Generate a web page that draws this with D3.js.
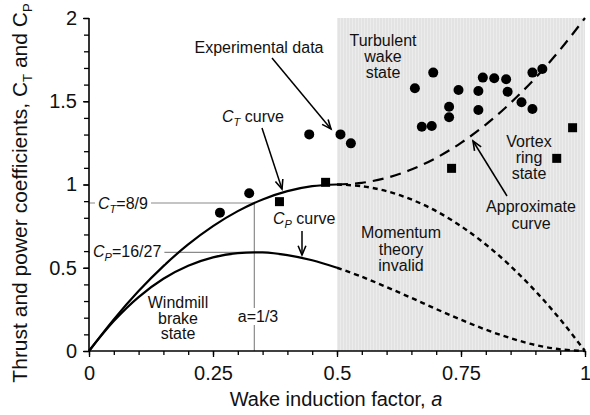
<!DOCTYPE html>
<html>
<head>
<meta charset="utf-8">
<script src="https://cdn.jsdelivr.net/npm/d3@7"></script>
<style>
  html, body { margin: 0; padding: 0; background: #fff; }
  svg { display: block; font-family: "Liberation Sans", Arial, Helvetica, sans-serif; }
</style>
</head>
<body>
<svg id="chart" width="590" height="415"></svg>
<script>
// ---------------- DATA ----------------
const aGrid = [0, 0.05, 0.1, 0.15, 0.2, 0.25, 0.3, 0.35, 0.4, 0.45, 0.5,
               0.55, 0.6, 0.65, 0.7, 0.75, 0.8, 0.85, 0.9, 0.95, 1];
const ctValues = [0, 0.19, 0.36, 0.51, 0.64, 0.75, 0.84, 0.91, 0.96, 0.99, 1.0,
                  0.99, 0.96, 0.91, 0.84, 0.75, 0.64, 0.51, 0.36, 0.19, 0];
const cpValues = [0, 0.18, 0.324, 0.434, 0.512, 0.5625, 0.588, 0.592, 0.576, 0.545, 0.5,
                  0.446, 0.384, 0.319, 0.252, 0.188, 0.128, 0.077, 0.036, 0.01, 0];
const approxA  = [0.5, 0.55, 0.6, 0.65, 0.7, 0.75, 0.8, 0.85, 0.9, 0.95, 1];
const approxCT = [1.0, 1.01, 1.04, 1.09, 1.16, 1.25, 1.36, 1.49, 1.64, 1.81, 2.0];

const circleA = [0.264, 0.323, 0.444, 0.507, 0.528, 0.657, 0.694, 0.671, 0.691, 0.726, 0.726,
                 0.745, 0.785, 0.785, 0.794, 0.817, 0.841, 0.844, 0.872, 0.894, 0.894, 0.914];
const circleC = [0.831, 0.947, 1.301, 1.301, 1.247, 1.578, 1.672, 1.347, 1.351, 1.467, 1.404,
                 1.568, 1.562, 1.447, 1.642, 1.638, 1.632, 1.557, 1.494, 1.453, 1.672, 1.694];
const squareA = [0.384, 0.477, 0.731, 0.943, 0.975];
const squareC = [0.897, 1.013, 1.097, 1.157, 1.341];

const xMajorTicks = [0, 0.25, 0.5, 0.75, 1];
const xTickLabels = ["0", "0.25", "0.5", "0.75", "1"];
const yMajorTicks = [0, 0.5, 1, 1.5, 2];
const yTickLabels = ["0", "0.5", "1", "1.5", "2"];
const xMinorTicks = d3.range(0, 21).map(i => i * 0.05);
const yMinorTicks = d3.range(0, 21).map(i => i * 0.1);

const aOptimal = 1 / 3;
const ctOptimal = 8 / 9;
const cpOptimal = 16 / 27;
const invalidStart = 0.5;

// ---------------- SETUP ----------------
const svg = d3.select("#chart");
const x = d3.scaleLinear().domain([0, 1]).range([89, 585]);
const y = d3.scaleLinear().domain([0, 2]).range([351, 18]);

// shading pattern
const defs = svg.append("defs");
const pat = defs.append("pattern").attr("id", "stripes").attr("patternUnits", "userSpaceOnUse")
  .attr("width", 3).attr("height", 10);
pat.append("rect").attr("width", 3).attr("height", 10).attr("fill", "#e3e3e3");
pat.append("rect").attr("x", 1).attr("width", 1).attr("height", 10).attr("fill", "#ececec");

svg.append("rect")
  .attr("x", x(invalidStart)).attr("y", y(2))
  .attr("width", x(1) - x(invalidStart)).attr("height", y(0) - y(2))
  .attr("fill", "url(#stripes)");

// reference lines
const refG = svg.append("g").attr("stroke", "#8a8a8a").attr("stroke-width", 1.2);
refG.append("line").attr("x1", x(aOptimal)).attr("x2", x(aOptimal)).attr("y1", y(0)).attr("y2", y(ctOptimal));
refG.append("line").attr("x1", x(0)).attr("x2", x(aOptimal)).attr("y1", y(ctOptimal)).attr("y2", y(ctOptimal));
refG.append("line").attr("x1", x(0)).attr("x2", x(aOptimal)).attr("y1", y(cpOptimal)).attr("y2", y(cpOptimal));

// ---------------- CURVES ----------------
const ctPts = aGrid.map((a, i) => [a, ctValues[i]]);
const cpPts = aGrid.map((a, i) => [a, cpValues[i]]);
const apPts = approxA.map((a, i) => [a, approxCT[i]]);
const line = d3.line().x(d => x(d[0])).y(d => y(d[1])).curve(d3.curveCatmullRom.alpha(0.5));

function drawCurve(pts, dash, width) {
  svg.append("path").datum(pts).attr("d", line)
    .attr("fill", "none").attr("stroke", "#000").attr("stroke-width", width)
    .attr("stroke-dasharray", dash);
}
drawCurve(ctPts.filter(d => d[0] <= invalidStart), null, 2.2);
drawCurve(cpPts.filter(d => d[0] <= invalidStart), null, 2.2);
drawCurve(ctPts.filter(d => d[0] >= invalidStart), "5,4", 2.4);
drawCurve(cpPts.filter(d => d[0] >= invalidStart), "5,4", 2.4);
drawCurve(apPts, "11,7", 2.2);

// ---------------- POINTS ----------------
svg.append("g").selectAll("circle").data(circleA).join("circle")
  .attr("cx", (d, i) => x(d)).attr("cy", (d, i) => y(circleC[i])).attr("r", 5).attr("fill", "#000");
const sq = 9;
svg.append("g").selectAll("rect").data(squareA).join("rect")
  .attr("x", (d, i) => x(d) - sq / 2).attr("y", (d, i) => y(squareC[i]) - sq / 2)
  .attr("width", sq).attr("height", sq).attr("fill", "#000");

// ---------------- AXES ----------------
const axG = svg.append("g");
const xMinor = axG.append("g").attr("transform", `translate(0,${y(0)})`)
  .call(d3.axisBottom(x).tickValues(xMinorTicks).tickSize(4).tickFormat(""));
const xMajor = axG.append("g").attr("transform", `translate(0,${y(0)})`)
  .call(d3.axisBottom(x).tickValues(xMajorTicks).tickSize(6).tickPadding(9)
    .tickFormat((d, i) => xTickLabels[i]));
const yMinor = axG.append("g").attr("transform", `translate(${x(0)},0)`)
  .call(d3.axisLeft(y).tickValues(yMinorTicks).tickSize(5).tickFormat(""));
const yMajor = axG.append("g").attr("transform", `translate(${x(0)},0)`)
  .call(d3.axisLeft(y).tickValues(yMajorTicks).tickSize(6).tickPadding(6)
    .tickFormat((d, i) => yTickLabels[i]));
[xMinor, xMajor, yMinor, yMajor].forEach(g => {
  g.select(".domain").attr("stroke", "#000").attr("stroke-width", 1.6);
  g.selectAll(".tick line").attr("stroke", "#000").attr("stroke-width", 1.3);
  g.selectAll("text").attr("font-size", 20).attr("fill", "#111").attr("font-family", "Liberation Sans, Arial, sans-serif");
});
xMajor.select(".domain").attr("d", `M${x(0)},0H${x(1)}`);
yMajor.select(".domain").attr("d", `M0,${y(0)}V${y(2)}`);
xMinor.select(".domain").remove();
yMinor.select(".domain").remove();

// axis titles
svg.append("text").attr("x", 336).attr("y", 406).attr("text-anchor", "middle")
  .attr("font-size", 20).attr("fill", "#111")
  .call(t => {
    t.append("tspan").text("Wake induction factor, ");
    t.append("tspan").attr("font-style", "italic").text("a");
  });

const yt = svg.append("text").attr("transform", "translate(27,193) rotate(-90)")
  .attr("text-anchor", "middle").attr("font-size", 21).attr("fill", "#111");
yt.append("tspan").text("Thrust and power coefficients, C");
yt.append("tspan").attr("font-size", 13).attr("dy", 5).text("T");
yt.append("tspan").attr("dy", -5).text(" and C");
yt.append("tspan").attr("font-size", 13).attr("dy", 5).text("P");

// ---------------- ANNOTATIONS ----------------
const fs = 16;
function multi(lines, cx, y0, lh) {
  const t = svg.append("text").attr("text-anchor", "middle").attr("font-size", fs).attr("fill", "#111");
  lines.forEach((s, i) => t.append("tspan").attr("x", cx).attr("y", y0 + i * lh).text(s));
  return t;
}
function subLabel(xp, yp, main, sub, rest, bg) {
  const g = svg.append("g");
  const t = g.append("text").attr("x", xp).attr("y", yp).attr("font-size", fs).attr("fill", "#111");
  t.append("tspan").attr("font-style", "italic").text(main);
  t.append("tspan").attr("font-style", "italic").attr("font-size", 11).attr("dy", 4).text(sub);
  t.append("tspan").attr("dy", -4).text(rest);
  if (bg) {
    const b = t.node().getBBox();
    g.insert("rect", "text").attr("x", b.x - 3).attr("y", b.y - 1)
      .attr("width", b.width + 6).attr("height", b.height + 2).attr("fill", "#fff");
  }
  return t;
}

svg.append("text").attr("x", 259).attr("y", 53).attr("text-anchor", "middle")
  .attr("font-size", fs).attr("fill", "#111").text("Experimental data");
multi(["Turbulent", "wake", "state"], 383, 46, 16);
multi(["Vortex", "ring", "state"], 529, 147, 16);
multi(["Approximate", "curve"], 531, 212, 17);
multi(["Momentum", "theory", "invalid"], 401, 238, 16.5);
multi(["Windmill", "brake", "state"], 178, 308, 15.5);

subLabel(222, 122, "C", "T", " curve", false);
subLabel(273, 224, "C", "P", " curve", false);
subLabel(98, 209, "C", "T", "=8/9", true);
subLabel(93, 257, "C", "P", "=16/27", true);

// a=1/3 label with white background
const aLab = svg.append("g");
const aT = aLab.append("text").attr("x", 258).attr("y", 322).attr("text-anchor", "middle")
  .attr("font-size", fs).attr("fill", "#111").text("a=1/3");
const ab = aT.node().getBBox();
aLab.insert("rect", "text").attr("x", ab.x - 2).attr("y", ab.y).attr("width", ab.width + 4)
  .attr("height", ab.height).attr("fill", "#fff");

// arrows
const arrows = [
  [[272, 58], [331, 129]],
  [[262, 128], [282, 189]],
  [[302, 231], [302, 255]],
  [[507, 196], [473, 141]]
];
arrows.forEach(([p0, p1]) => {
  const g = svg.append("g").attr("stroke", "#000").attr("stroke-width", 1.5).attr("fill", "none");
  g.append("line").attr("x1", p0[0]).attr("y1", p0[1]).attr("x2", p1[0]).attr("y2", p1[1]);
  const ang = Math.atan2(p1[1] - p0[1], p1[0] - p0[0]);
  const L = 10, w = 0.4;
  const h1 = [p1[0] - L * Math.cos(ang - w), p1[1] - L * Math.sin(ang - w)];
  const h2 = [p1[0] - L * Math.cos(ang + w), p1[1] - L * Math.sin(ang + w)];
  g.append("path").attr("d", `M${h1[0]},${h1[1]}L${p1[0]},${p1[1]}L${h2[0]},${h2[1]}`).attr("stroke-width", 1.6);
});
</script>
</body>
</html>
